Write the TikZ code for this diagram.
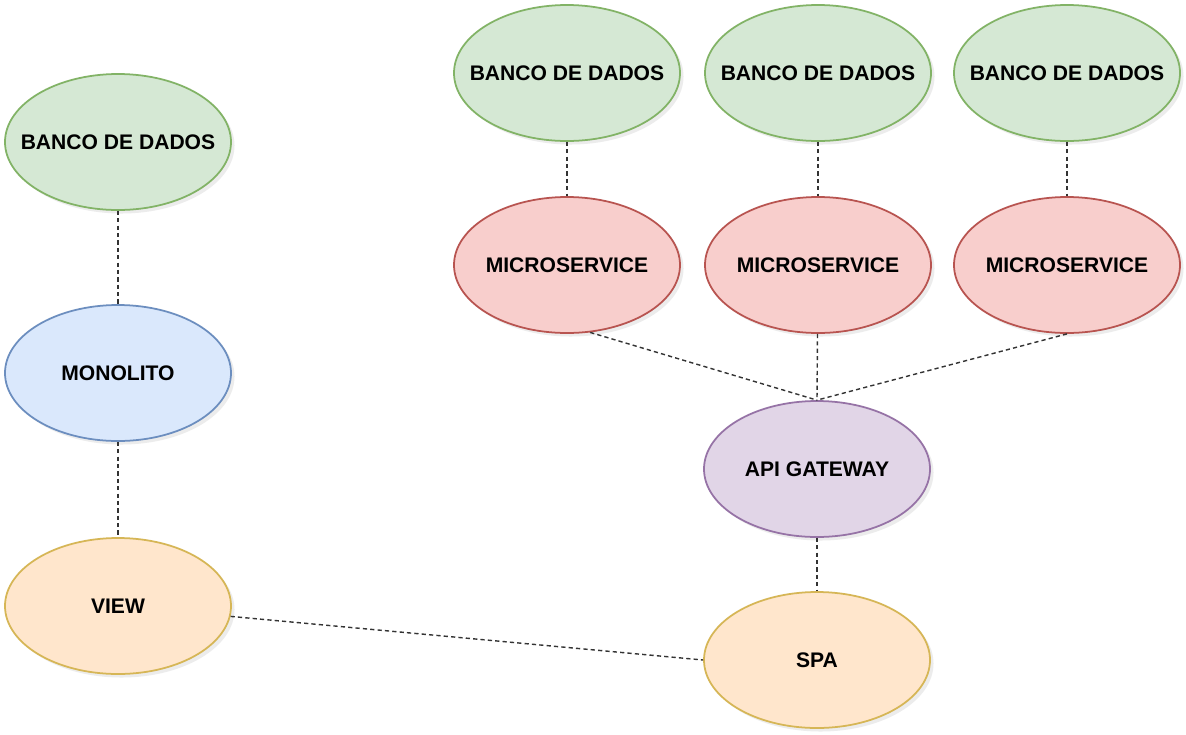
\documentclass[tikz,border=0pt]{standalone}
\usepackage{fontspec}
\setmainfont{Liberation Sans}
\usetikzlibrary{shapes.geometric, shadows}

\definecolor{dbfill}{HTML}{D5E8D4}
\definecolor{dbline}{HTML}{82B366}
\definecolor{msfill}{HTML}{F8CECC}
\definecolor{msline}{HTML}{B85450}
\definecolor{monofill}{HTML}{DAE8FC}
\definecolor{monoline}{HTML}{6C8EBF}
\definecolor{gwfill}{HTML}{E1D5E7}
\definecolor{gwline}{HTML}{9673A6}
\definecolor{uifill}{HTML}{FFE6CC}
\definecolor{uiline}{HTML}{D6B656}

\begin{document}
\begin{tikzpicture}[
    bubble/.style={ellipse, draw, line width=1pt, minimum width=4.52cm, minimum height=2.72cm,
        inner xsep=-0.4cm, inner ysep=0pt, align=center, font=\fontsize{12}{14}\selectfont\bfseries,
        drop shadow={opacity=0.15, shadow xshift=2pt, shadow yshift=-2pt}},
    db/.style={bubble, fill=dbfill, draw=dbline},
    svc/.style={bubble, fill=msfill, draw=msline},
    mono/.style={bubble, fill=monofill, draw=monoline},
    gate/.style={bubble, fill=gwfill, draw=gwline},
    ui/.style={bubble, fill=uifill, draw=uiline},
    link/.style={line width=0.8pt, black!80, dash pattern=on 2.4pt off 1.8pt},
]
\path[use as bounding box, fill=white] (0,0) rectangle (23.72,-14.68);

% --- Left: monolith stack ---
\node[db] (db0) at (2.36, -2.84) {BANCO DE DADOS};
\node[mono] (monolito) at (2.36, -7.46) {MONOLITO};
\node[ui] (view) at (2.36, -12.12) {VIEW};

% --- Right, top row: databases ---
\node[db] (db1) at (11.34, -1.46) {BANCO DE DADOS};
\node[db] (db2) at (16.36, -1.46) {BANCO DE DADOS};
\node[db] (db3) at (21.34, -1.46) {BANCO DE DADOS};

% --- Right, second row: microservices ---
\node[svc] (ms1) at (11.34, -5.30) {MICROSERVICE};
\node[svc] (ms2) at (16.36, -5.30) {MICROSERVICE};
\node[svc] (ms3) at (21.34, -5.30) {MICROSERVICE};

% --- Gateway and SPA ---
\node[gate] (gw) at (16.34, -9.38) {API GATEWAY};
\node[ui] (spa) at (16.34, -13.20) {SPA};

% === Links: monolith side ===
\draw[link] (db0) -- (monolito);
\draw[link] (monolito) -- (view);
\draw[link] (view) -- (spa.west);

% === Links: databases to microservices ===
\draw[link] (db1) -- (ms1);
\draw[link] (db2) -- (ms2);
\draw[link] (db3) -- (ms3);

% === Links: microservices to gateway to SPA ===
\draw[link] (ms1.-71) -- (gw.north);
\draw[link] (ms2) -- (gw.north);
\draw[link] (ms3.south) -- (gw.north);
\draw[link] (gw) -- (spa);

\end{tikzpicture}
\end{document}
